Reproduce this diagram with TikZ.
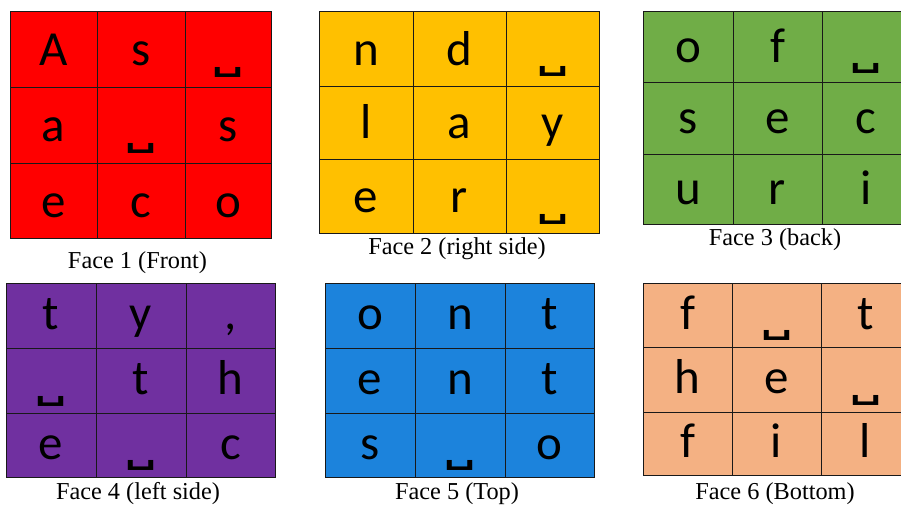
\documentclass[tikz,border=0pt]{standalone}
\usepackage{fontspec}
\usepackage{graphicx}
\setmainfont{Liberation Serif}
\newfontfamily\letterfont{Carlito}
\newfontfamily\symfont{DejaVu Sans}
\definecolor{faceRed}{HTML}{FF0000}
\definecolor{faceAmber}{HTML}{FFC000}
\definecolor{faceGreen}{HTML}{70AD47}
\definecolor{facePurple}{HTML}{7030A0}
\definecolor{faceBlue}{HTML}{1C83DC}
\definecolor{facePeach}{HTML}{F4B183}
\newcommand\vsp{\raisebox{\dimexpr-\height-1.8pt\relax}{\resizebox*{31pt}{10pt}{\symfont\bfseries ␣}}}
\tikzset{
  gridline/.style={draw=black!90, line width=0.9pt},
  letter/.style={anchor=base, inner sep=0pt, font=\letterfont\fontsize{49}{49}\selectfont},
  caption/.style={anchor=base, inner sep=0pt, font=\fontsize{24.3}{24.3}\selectfont}
}
% #1 fill colour, #2 column edges, #3 row edges, #4 letters, #5 name prefix
\newcommand\cubeface[5]{%
  \pgfmathsetmacro\xA{{#2}[0]}\pgfmathsetmacro\xB{{#2}[1]}%
  \pgfmathsetmacro\xC{{#2}[2]}\pgfmathsetmacro\xD{{#2}[3]}%
  \pgfmathsetmacro\yA{{#3}[0]}\pgfmathsetmacro\yB{{#3}[1]}%
  \pgfmathsetmacro\yC{{#3}[2]}\pgfmathsetmacro\yD{{#3}[3]}%
  \fill[#1] (\xA,\yA) rectangle (\xD,\yD);
  \draw[gridline] (\xA,\yA) rectangle (\xD,\yD)
    (\xB,\yA) -- (\xB,\yD) (\xC,\yA) -- (\xC,\yD)
    (\xA,\yB) -- (\xD,\yB) (\xA,\yC) -- (\xD,\yC);
  \foreach \l [count=\i from 0] in {#4} {
    \pgfmathtruncatemacro\cc{mod(\i,3)}
    \pgfmathtruncatemacro\cn{\cc+1}
    \pgfmathtruncatemacro\rr{div(\i,3)}
    \pgfmathtruncatemacro\rn{\rr+1}
    \pgfmathsetmacro\xl{{#2}[\cc]}
    \pgfmathsetmacro\xr{{#2}[\cn]}
    \pgfmathsetmacro\yt{{#3}[\rr]}
    \pgfmathsetmacro\yb{{#3}[\rn]}
    \pgfmathsetmacro\cx{(\xl+\xr)/2}
    \pgfmathsetmacro\by{\yt+0.72*(\yb-\yt)}
    \node[letter] (#5-\i) at (\cx,\by) {\l};
  }
}
\begin{document}
\begin{tikzpicture}[x=1pt,y=-1pt]
\clip (0,0) rectangle (901,504);
\fill[white] (0,0) rectangle (901,504);

\cubeface{faceRed}{10,97,185,271}{11.5,87,163,238}{A,s,\vsp,a,\vsp,s,e,c,o}{fa}
\cubeface{faceAmber}{319,413,506,599}{11.5,86,159,233}{n,d,\vsp,l,a,y,e,r,\vsp}{fb}
\cubeface{faceGreen}{643,733,822,910}{11,82,154,224}{o,f,\vsp,s,e,c,u,r,i}{fc}
\cubeface{facePurple}{6,96,186,275}{283,348,413,477}{t,y,{,},\vsp,t,h,e,\vsp,c}{fd}
\cubeface{faceBlue}{325,415,505,594}{283,348,413,477}{o,n,t,e,n,t,s,\vsp,o}{fe}
\cubeface{facePeach}{643,732,821,910}{283,347,412,475}{f,\vsp,t,h,e,\vsp,f,i,l}{ff}

\node[caption] (capa) at (137.5,268) {Face 1 (Front)};
\node[caption] (capb) at (457,254) {Face 2 (right side)};
\node[caption] (capc) at (775,245) {Face 3 (back)};
\node[caption] (capd) at (138,499) {Face 4 (left side)};
\node[caption] (cape) at (457,499) {Face 5 (Top)};
\node[caption] (capf) at (775,499) {Face 6 (Bottom)};
\end{tikzpicture}
\end{document}
